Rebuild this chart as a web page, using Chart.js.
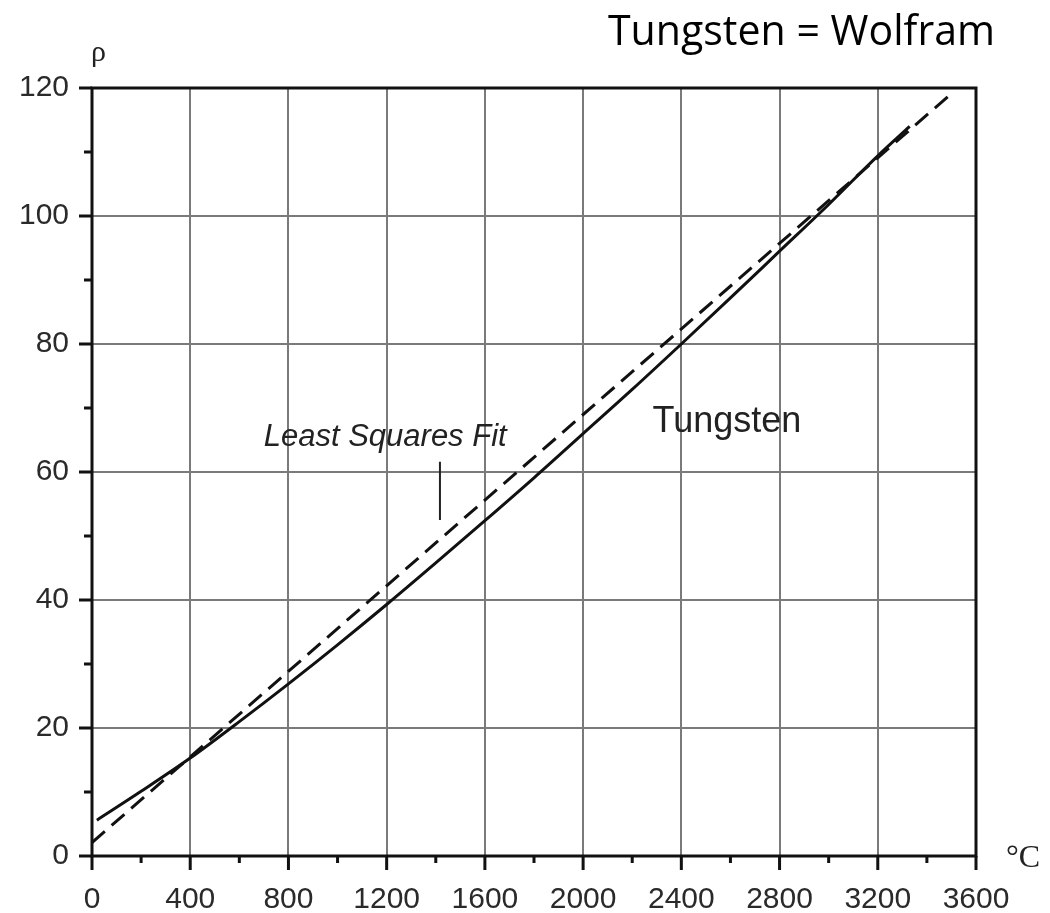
<!DOCTYPE html>
<html>
<head>
<meta charset="utf-8">
<script src="https://cdn.jsdelivr.net/npm/chart.js@4.4.1/dist/chart.umd.min.js"></script>
<style>
  html, body { margin: 0; padding: 0; background: #fff; }
  #wrap { width: 1050px; height: 913px; }
</style>
</head>
<body>
<div id="wrap"><canvas id="c" width="1050" height="913"></canvas></div>
<script>
// ---- data ----
const tempC = [20, 200, 400, 600, 800, 1000, 1200, 1400, 1600, 1800, 2000, 2200, 2400, 2600, 2800, 3000, 3200, 3330];
const tungstenRho = [5.6, 10.1, 15.3, 21.0, 26.9, 33.0, 39.3, 45.8, 52.4, 59.1, 66.0, 72.9, 80.0, 87.2, 94.5, 101.8, 109.4, 114.0];
const fitC = [0, 3490];
const fitRho = [2.1, 118.8];
const xTicks = [0, 400, 800, 1200, 1600, 2000, 2400, 2800, 3200, 3600];
const yTicks = [0, 20, 40, 60, 80, 100, 120];

const toPts = (xs, ys) => xs.map((x, i) => ({ x: x, y: ys[i] }));

const LABEL_FONT = '"Liberation Sans", Arial, sans-serif';

const decor = {
  id: 'decor',
  afterDraw(chart) {
    const ctx = chart.ctx;
    const a = chart.chartArea;
    const xs = chart.scales.x, ys = chart.scales.y;
    ctx.save();
    // tick marks (major + minor), outside the frame
    ctx.strokeStyle = '#111';
    ctx.lineWidth = 3;
    ctx.beginPath();
    for (let v = 0; v <= 3600; v += 200) {
      const px = xs.getPixelForValue(v);
      const len = (v % 400 === 0) ? 14 : 7;
      ctx.moveTo(px, a.bottom);
      ctx.lineTo(px, a.bottom + len);
    }
    for (let v = 0; v <= 120; v += 10) {
      const py = ys.getPixelForValue(v);
      const len = (v % 20 === 0) ? 13 : 8;
      ctx.moveTo(a.left, py);
      ctx.lineTo(a.left - len, py);
    }
    ctx.stroke();
    // frame
    ctx.lineWidth = 3;
    ctx.strokeStyle = '#111';
    ctx.strokeRect(a.left, a.top, a.right - a.left, a.bottom - a.top);

    // axis symbols
    ctx.fillStyle = '#222';
    ctx.font = '30px "Liberation Serif", "DejaVu Serif", serif';
    ctx.textAlign = 'left';
    ctx.textBaseline = 'alphabetic';
    ctx.fillText('\u03C1', 91, 61);
    ctx.font = '32px "Liberation Serif", "DejaVu Serif", serif';
    ctx.fillText('\u00B0C', 1006, 867);

    // annotations
    ctx.fillStyle = '#222';
    ctx.font = 'italic 31px ' + LABEL_FONT;
    ctx.textAlign = 'center';
    ctx.fillText('Least Squares Fit', xs.getPixelForValue(1194), ys.getPixelForValue(64.0));
    ctx.textAlign = 'left';
    ctx.font = '36px ' + LABEL_FONT;
    ctx.fillText('Tungsten', xs.getPixelForValue(2283), ys.getPixelForValue(66.3));

    ctx.strokeStyle = '#222';
    ctx.lineWidth = 2;
    ctx.beginPath();
    ctx.moveTo(xs.getPixelForValue(1417), ys.getPixelForValue(61.6));
    ctx.lineTo(xs.getPixelForValue(1417), ys.getPixelForValue(52.5));
    ctx.stroke();

    // heading (Calibri-like), compressed to the reference width
    const title = 'Tungsten = Wolfram';
    ctx.font = '42px "Open Sans", "Noto Sans", sans-serif';
    ctx.fillStyle = '#000';
    const w = ctx.measureText(title).width;
    const target = 387;
    ctx.translate(608, 45);
    ctx.scale(target / w, 1);
    ctx.textAlign = 'left';
    ctx.fillText(title, 0, 0);
    ctx.restore();
  }
};

new Chart(document.getElementById('c'), {
  type: 'scatter',
  data: {
    datasets: [
      {
        label: 'Tungsten',
        data: toPts(tempC, tungstenRho),
        showLine: true,
        borderColor: '#111',
        borderWidth: 3,
        pointRadius: 0,
        cubicInterpolationMode: 'monotone',
        fill: false
      },
      {
        label: 'Least Squares Fit',
        data: toPts(fitC, fitRho),
        showLine: true,
        borderColor: '#111',
        borderWidth: 3,
        borderDash: [17, 9],
        pointRadius: 0,
        fill: false
      }
    ]
  },
  options: {
    responsive: false,
    devicePixelRatio: 1,
    animation: false,
    layout: { padding: { left: 0, right: 74, top: 88, bottom: 0 } },
    plugins: { legend: { display: false }, tooltip: { enabled: false }, title: { display: false } },
    scales: {
      x: {
        type: 'linear',
        min: 0, max: 3600,
        afterFit(s) { s.height = 57; },
        afterBuildTicks(s) { s.ticks = xTicks.map(v => ({ value: v })); },
        border: { display: false },
        grid: { color: '#7a7a7a', lineWidth: 2, drawTicks: false },
        ticks: {
          autoSkip: false, maxRotation: 0, padding: 26,
          color: '#2a2a2a',
          font: { family: LABEL_FONT, size: 30 },
          callback: v => String(v)
        }
      },
      y: {
        type: 'linear',
        min: 0, max: 120,
        afterFit(s) { s.width = 92; },
        afterBuildTicks(s) { s.ticks = yTicks.map(v => ({ value: v })); },
        border: { display: false },
        grid: { color: '#7a7a7a', lineWidth: 2, drawTicks: false },
        ticks: {
          autoSkip: false, padding: 23,
          color: '#2a2a2a',
          font: { family: LABEL_FONT, size: 30 },
          callback: v => String(v)
        }
      }
    }
  },
  plugins: [decor]
});
</script>
</body>
</html>
